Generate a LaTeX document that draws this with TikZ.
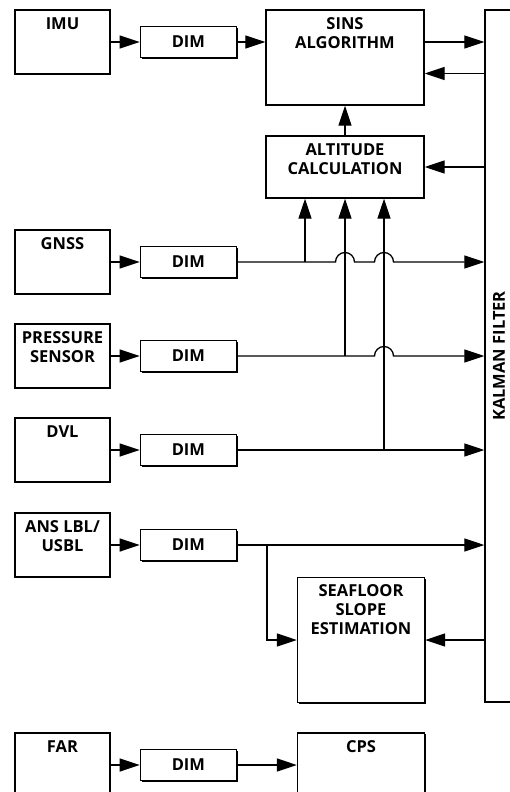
\documentclass[tikz,border=0pt]{standalone}
\usepackage{fontspec}
\setmainfont{Open Sans}
\usetikzlibrary{positioning, arrows.meta, shadows, calc}

\begin{document}
\begin{tikzpicture}[x=1pt, y=-1pt, font=\fontsize{16.5}{19}\selectfont\bfseries,
  node distance=29pt,
  blk/.style={draw, line width=1.4pt, fill=white, inner sep=0pt,
    drop shadow={shadow xshift=1.4pt, shadow yshift=-1.4pt, fill=black, opacity=1}},
  sensor/.style={blk, minimum width=95pt, minimum height=64pt},
  dimbox/.style={blk, minimum width=96pt, minimum height=31pt},
  head/.style={label={[anchor=north, yshift=-8pt, inner sep=0pt, align=center]north:#1}},
  arr/.style={-{Triangle[length=20pt, width=13pt]}, line width=1.3pt},
  wire/.style={line width=1.3pt}]

\useasboundingbox (0,0) rectangle (509,792);

% sensors
\node[sensor, head=IMU] (imu) at (62.5,42) {};
\node[sensor, head=GNSS] (gnss) at (62.5,262) {};
\node[sensor, head={PRESSURE\\SENSOR}] (pres) at (62.5,356) {};
\node[sensor, head=DVL] (dvl) at (62.5,450) {};
\node[sensor, head={ANS LBL/\\USBL}] (ans) at (62.5,545) {};
\node[sensor, head=FAR] (far) at (62.5,765) {};

\node[dimbox, right=of imu]  (dim1) {DIM};
\node[dimbox, right=of gnss] (dim2) {DIM};
\node[dimbox, right=of pres] (dim3) {DIM};
\node[dimbox, right=of dvl]  (dim4) {DIM};
\node[dimbox, right=of ans]  (dim5) {DIM};
\node[dimbox, right=of far]  (dim6) {DIM};

% processing blocks
\node[blk, minimum width=158pt, minimum height=95pt, head={SINS\\ALGORITHM}] (sins) at (345,57.5) {};
\node[blk, minimum width=158pt, minimum height=62pt, head={ALTITUDE\\CALCULATION}] (alt) at (345,167) {};
\node[blk, minimum width=127pt, minimum height=125pt, head={SEAFLOOR\\SLOPE\\ESTIMATION}] (sea) at (361,640) {};
\node[blk, minimum width=127pt, minimum height=64pt, head=CPS] (cps) at (361,765) {};
\node[blk, minimum width=28pt, minimum height=692pt] (kf) at (499,356) {\rotatebox{90}{KALMAN FILTER}};

\coordinate (b1) at ([xshift=-40pt]alt.south);
\coordinate (b2) at (alt.south);
\coordinate (b3) at ([xshift=39pt]alt.south);
\coordinate (fb) at ([yshift=-16pt]sins.east);
\coordinate (tap) at ($(dim5.east)+(30,0)$);

% sensor -> DIM
\foreach \s/\d in {imu/dim1, gnss/dim2, pres/dim3, dvl/dim4, ans/dim5, far/dim6}
  \draw[arr] (\s) -- (\d);

\draw[arr] (dim1) -- (dim1 -| sins.west);
\draw[arr] (dim1 -| sins.east) -- (dim1 -| kf.west);
\draw[arr] (fb -| kf.west) -- (fb);
\draw[arr] (alt -| kf.west) -- (alt.east);
\draw[arr] (alt.north) -- (sins.south);

% measurements with line jumps
\draw[arr] (dim2.east) -- ($(b2 |- dim2)+(-9.5,0)$)
  arc[start angle=180, end angle=360, radius=9.5]
  -- ($(b3 |- dim2)+(-9.5,0)$)
  arc[start angle=180, end angle=360, radius=9.5]
  -- (dim2 -| kf.west);
\draw[arr] (dim3.east) -- ($(b3 |- dim3)+(-9.5,0)$)
  arc[start angle=180, end angle=360, radius=9.5]
  -- (dim3 -| kf.west);
\draw[arr] (dim4.east) -- (dim4 -| kf.west);
\draw[arr] (b1 |- dim2) -- (b1);
\draw[arr] (b2 |- dim3) -- (b2);
\draw[arr] (b3 |- dim4) -- (b3);

\draw[arr] (dim5.east) -- (dim5 -| kf.west);
\draw[arr] (tap) |- (sea.west);
\draw[arr] (sea -| kf.west) -- (sea.east);

\draw[arr] (dim6) -- (dim6 -| cps.west);

\end{tikzpicture}
\end{document}
